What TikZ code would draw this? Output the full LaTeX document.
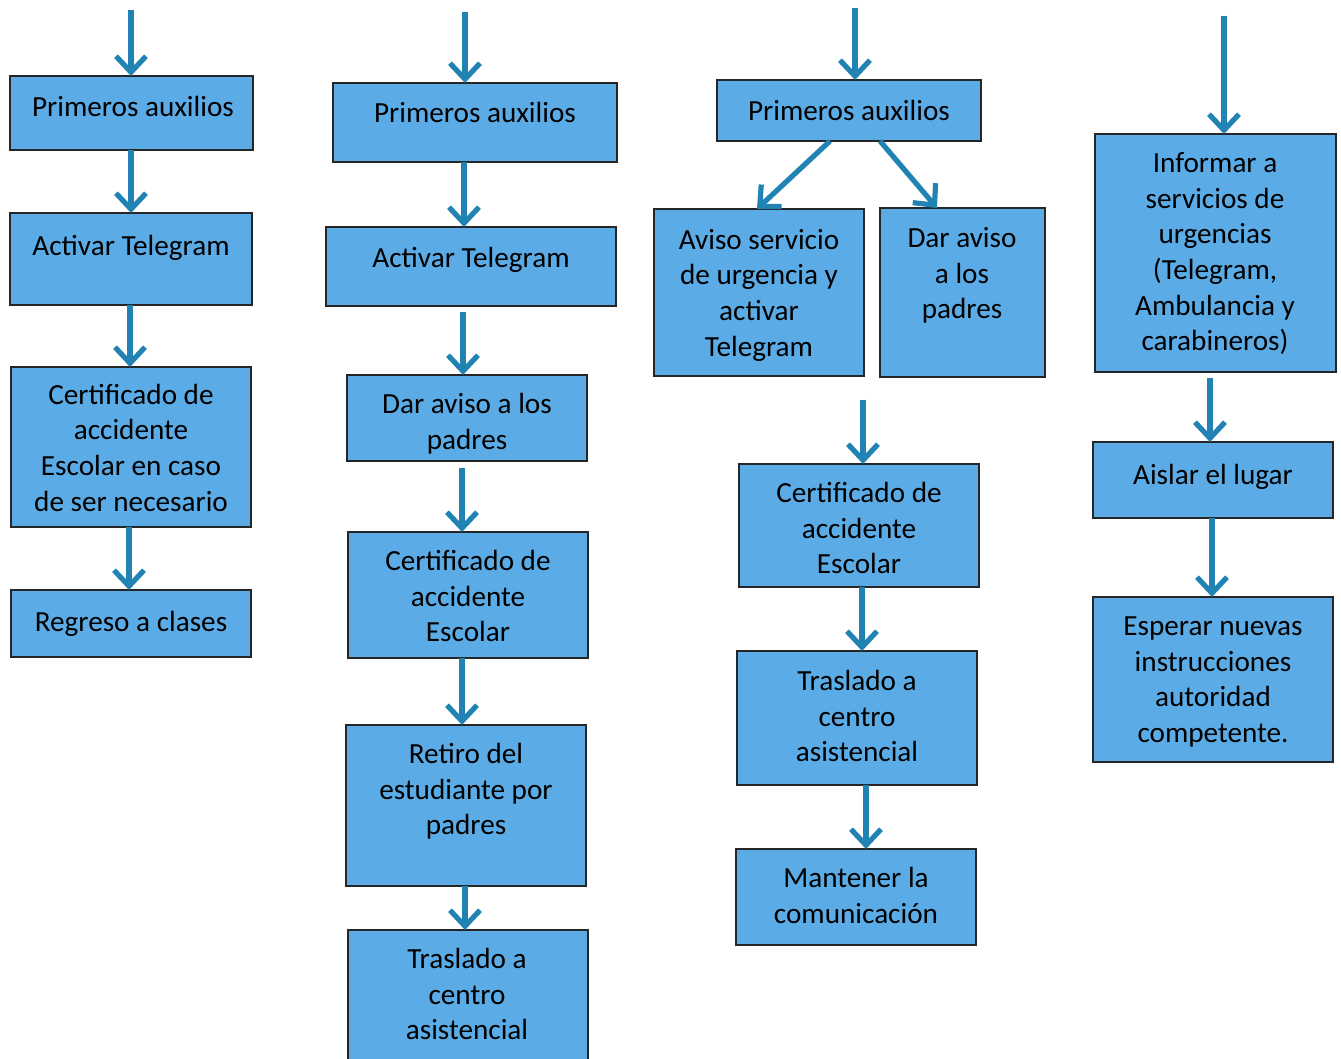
\documentclass[tikz,border=0pt]{standalone}
\usepackage{fontspec}
\setmainfont{Carlito}
\usetikzlibrary{arrows.meta,fit}
\definecolor{boxblue}{RGB}{91,172,230}
\definecolor{arrblue}{RGB}{33,131,180}
\tikzset{
  box/.style={draw=black!85, line width=0.8pt, fill=boxblue, inner sep=0pt, outer sep=0pt},
  txt/.style={align=center, inner sep=0pt, yshift=-2.2pt, font=\fontsize{14.6}{17.85}\selectfont,
    execute at begin node=\strut, execute at end node=\strut},
  arr/.style={draw=arrblue, line width=2.6pt, -{Straight Barb[length=8pt,width=15pt]}}
}
\begin{document}
\begin{tikzpicture}[x=0.5pt,y=-0.5pt]
\clip (0,0) rectangle (1341,1059);
\fill[white] (0,0) rectangle (1341,1059);

% ---------- column 1 ----------
\node[box, fit={(10,76) (253,150)}] (a1) {};
\node[box, fit={(10,213) (252,305)}] (a2) {};
\node[box, fit={(11,367) (251,527)}] (a3) {};
\node[box, fit={(11,590) (251,657)}] (a4) {};
\node[txt] (a1t) at (133,105) {Primeros auxilios};
\node[txt] (a2t) at (131,244) {Activar Telegram};
\node[txt] (a3t) at (131,448.5) {Certificado de\\accidente\\Escolar en caso\\de ser necesario};
\node[txt] (a4t) at (131,620) {Regreso a clases};
\coordinate (a0) at (131,10);
\draw[arr] (a0) -- (131,0 |- a1.north);
\draw[arr] (131,0 |- a1.south) -- (131,0 |- a2.north);
\draw[arr] (130,0 |- a2.south) -- (130,0 |- a3.north);
\draw[arr] (129,0 |- a3.south) -- (129,0 |- a4.north);

% ---------- column 2 ----------
\node[box, fit={(333,83) (617,162)}] (b1) {};
\node[box, fit={(326,227) (616,306)}] (b2) {};
\node[box, fit={(347,375) (587,461)}] (b3) {};
\node[box, fit={(348,532) (588,658)}] (b4) {};
\node[box, fit={(346,725) (586,886)}] (b5) {};
\node[box, fit={(348,930) (588,1075)}] (b6) {};
\node[txt] (b1t) at (475,111) {Primeros auxilios};
\node[txt] (b2t) at (471,256) {Activar Telegram};
\node[txt] (b3t) at (467,422) {Dar aviso a los\\padres};
\node[txt] (b4t) at (468,597) {Certificado de\\accidente\\Escolar};
\node[txt] (b5t) at (466,790) {Retiro del\\estudiante por\\padres};
\node[txt] (b6t) at (467,995) {Traslado a\\centro\\asistencial};
\coordinate (b0) at (465,12);
\coordinate (b2s) at (463,312);
\coordinate (b3s) at (462,468);
\draw[arr] (b0) -- (465,0 |- b1.north);
\draw[arr] (464,0 |- b1.south) -- (464,0 |- b2.north);
\draw[arr] (b2s) -- (463,0 |- b3.north);
\draw[arr] (b3s) -- (462,0 |- b4.north);
\draw[arr] (462,0 |- b4.south) -- (462,0 |- b5.north);
\draw[arr] (465,0 |- b5.south) -- (465,0 |- b6.north);

% ---------- column 3 ----------
\node[box, fit={(717,80) (981,141)}] (c1) {};
\node[box, fit={(654,209) (864,376)}] (c2) {};
\node[box, fit={(880,208) (1045,377)}] (c3) {};
\node[box, fit={(739,464) (979,587)}] (c4) {};
\node[box, fit={(737,651) (977,785)}] (c5) {};
\node[box, fit={(736,849) (976,945)}] (c6) {};
\node[txt] (c1t) at (849,109) {Primeros auxilios};
\node[txt] (c2t) at (759,293.5) {Aviso servicio\\de urgencia y\\activar\\Telegram};
\node[txt] (c3t) at (962,274) {Dar aviso\\a los\\padres};
\node[txt] (c4t) at (859,529) {Certificado de\\accidente\\Escolar};
\node[txt] (c5t) at (857,717) {Traslado a\\centro\\asistencial};
\node[txt] (c6t) at (856,896.5) {Mantener la\\comunicación};
\coordinate (c0) at (855,8);
\coordinate (c4s) at (863,400);
\draw[arr] (c0) -- (855,0 |- c1.north);
\draw[arr] (830,0 |- c1.south) -- (757,0 |- c2.north);
\draw[arr] (880,0 |- c1.south) -- (937,0 |- c3.north);
\draw[arr] (c4s) -- (863,0 |- c4.north);
\draw[arr] (862,0 |- c4.south) -- (862,0 |- c5.north);
\draw[arr] (866,0 |- c5.south) -- (866,0 |- c6.north);

% ---------- column 4 ----------
\node[box, fit={(1095,134) (1336,372)}] (d1) {};
\node[box, fit={(1093,442) (1333,518)}] (d2) {};
\node[box, fit={(1093,597) (1333,762)}] (d3) {};
\node[txt] (d1t) at (1215,252.5) {Informar a\\servicios de\\urgencias\\(Telegram,\\Ambulancia y\\carabineros)};
\node[txt] (d2t) at (1213,473) {Aislar el lugar};
\node[txt] (d3t) at (1213,680.5) {Esperar nuevas\\instrucciones\\autoridad\\competente.};
\coordinate (d0) at (1224,16);
\coordinate (d2s) at (1210,378);
\draw[arr] (d0) -- (1224,0 |- d1.north);
\draw[arr] (d2s) -- (1210,0 |- d2.north);
\draw[arr] (1212,0 |- d2.south) -- (1212,0 |- d3.north);
\end{tikzpicture}
\end{document}
